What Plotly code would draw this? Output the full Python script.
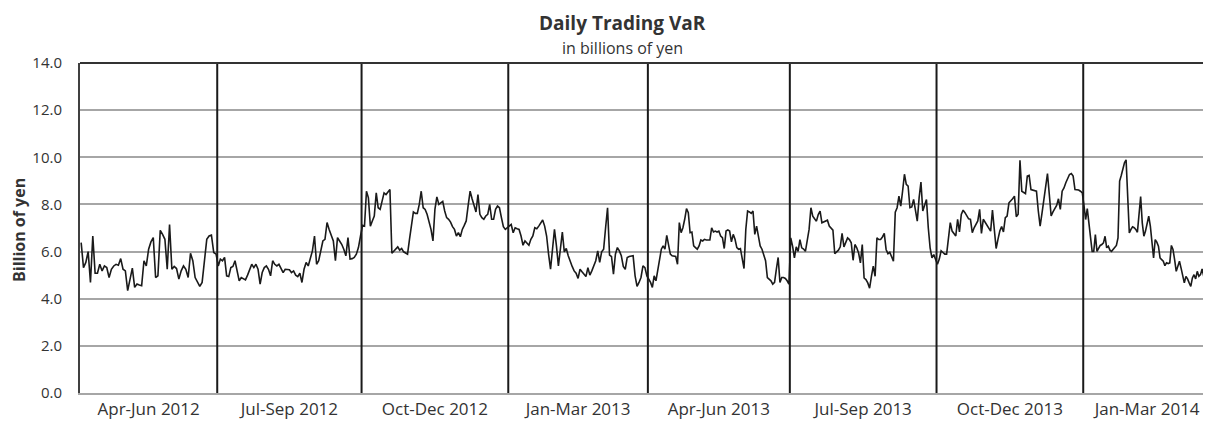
import plotly.graph_objects as go

# ---- data ----
QUARTERS = ["Apr-Jun 2012", "Jul-Sep 2012", "Oct-Dec 2012", "Jan-Mar 2013",
            "Apr-Jun 2013", "Jul-Sep 2013", "Oct-Dec 2013", "Jan-Mar 2014"]
QUARTER_DAYS = [58, 61, 62, 59, 60, 62, 62, 54]

q1 = [6.38, 5.32, 5.54, 6.00, 4.69, 6.66, 5.08, 5.08, 5.46, 5.18, 5.39, 5.32, 4.90, 5.25,
      5.39, 5.46, 5.42, 5.70, 5.25, 5.18, 4.34, 4.83, 5.30, 4.48, 4.62, 4.58, 4.55, 5.61,
      5.39, 6.10, 6.41, 6.59, 4.90, 4.97, 6.90, 6.73, 6.52, 5.25, 7.15, 5.25, 5.37, 5.28,
      4.83, 5.18, 5.39, 5.25, 4.90, 5.93, 5.61, 4.90, 4.69, 4.52, 4.69, 5.54, 6.52, 6.66,
      6.70, 5.96, 5.89]
q2 = [5.39, 5.68, 5.61, 5.75, 4.97, 4.94, 5.32, 5.37, 5.61, 5.25, 4.76, 4.90, 4.83, 4.80,
      5.00, 5.25, 5.46, 5.32, 5.46, 5.25, 4.62, 5.11, 5.32, 5.39, 5.25, 4.97, 5.61, 5.46,
      5.39, 5.46, 5.28, 5.11, 5.25, 5.23, 5.23, 5.11, 5.18, 5.00, 4.94, 5.08, 4.69, 5.25,
      5.54, 5.39, 5.68, 6.03, 6.66, 5.46, 5.61, 6.10, 6.45, 6.52, 7.23, 6.94, 6.73, 6.45,
      5.61, 6.59, 6.45, 6.31, 6.10, 5.82, 6.59, 5.68, 5.70, 5.75, 5.89, 6.17, 6.66]
q3 = [7.11, 7.08, 8.56, 8.28, 7.08, 7.30, 7.51, 8.49, 7.86, 7.79, 8.21, 8.49, 8.42, 8.52,
      8.63, 5.93, 6.03, 6.10, 6.20, 6.06, 6.13, 5.99, 5.93, 5.89, 6.52, 7.08, 7.68, 7.62,
      7.62, 8.00, 8.56, 7.86, 7.79, 7.58, 7.30, 6.94, 6.45, 7.79, 8.32, 8.00, 8.07, 8.13,
      7.72, 7.44, 7.37, 7.25, 7.06, 6.94, 6.66, 6.80, 6.63, 6.94, 7.11, 7.30, 7.96, 8.56,
      8.24, 8.00, 7.68, 8.42, 7.58, 7.44, 7.37, 7.51, 7.58, 8.00, 7.37, 7.37, 7.79, 7.93,
      7.86, 7.44, 7.06, 6.94, 7.01]
q4 = [7.08, 7.15, 6.80, 7.01, 6.97, 6.94, 6.66, 6.27, 6.45, 6.35, 6.27, 6.52, 6.66, 7.01,
      6.97, 7.08, 7.20, 7.34, 7.08, 6.66, 5.89, 5.25, 6.10, 6.94, 6.24, 5.39, 6.10, 6.83,
      5.99, 6.13, 5.82, 5.54, 5.37, 5.18, 5.08, 4.86, 5.25, 5.14, 5.04, 4.94, 5.32, 5.00,
      5.18, 5.39, 5.61, 6.03, 5.54, 5.99, 6.10, 7.01, 7.86, 5.85, 5.79, 5.04, 5.89, 6.17,
      6.03, 5.82, 5.37, 5.25, 5.75, 5.79, 5.79, 5.82, 4.97, 4.52, 4.69, 4.90, 5.39, 5.32,
      4.97]
q5 = [4.83, 4.69, 4.48, 4.97, 4.76, 5.18, 5.54, 6.10, 6.24, 6.10, 6.69, 6.31, 5.89, 5.82,
      5.82, 5.79, 5.46, 7.23, 6.80, 7.01, 7.37, 7.82, 7.65, 6.80, 6.83, 6.24, 6.17, 6.10,
      6.24, 6.49, 6.45, 6.52, 6.49, 6.49, 6.49, 7.01, 6.83, 6.87, 6.83, 6.87, 6.66, 6.59,
      6.13, 6.87, 6.92, 6.87, 6.41, 6.73, 6.52, 6.17, 6.10, 6.13, 5.70, 5.28, 6.94, 7.72,
      7.68, 7.62, 7.72, 6.73, 7.08, 6.66, 6.24, 6.10, 5.89, 5.61, 4.90, 4.83, 4.76, 4.62,
      4.69, 5.25, 5.75, 4.69, 4.90, 4.90, 4.86, 4.76, 4.62]
q6 = [6.58, 6.23, 5.73, 6.20, 6.01, 6.51, 6.16, 6.11, 6.01, 6.51, 6.94, 7.86, 7.50, 7.39,
      7.29, 7.57, 7.72, 7.22, 7.25, 7.29, 7.33, 7.08, 7.01, 6.91, 5.91, 5.97, 6.06, 6.20,
      6.77, 6.20, 6.37, 6.58, 6.51, 6.37, 5.63, 6.30, 6.16, 5.94, 5.52, 6.30, 4.88, 4.81,
      4.67, 4.45, 4.95, 5.38, 4.95, 6.58, 6.51, 6.51, 6.62, 6.77, 6.09, 5.91, 5.97, 5.73,
      5.59, 7.67, 7.86, 8.35, 7.93, 8.57, 9.28, 8.85, 8.78, 7.86, 7.89, 8.21, 7.79, 7.29,
      8.28, 8.95, 7.72, 7.93, 8.21, 7.01, 6.16, 5.73, 5.87, 5.66]
q7 = [5.46, 5.68, 6.03, 5.96, 5.89, 5.89, 6.52, 7.23, 6.87, 6.77, 6.66, 7.37, 6.83, 7.58,
      7.76, 7.65, 7.51, 7.39, 7.37, 6.80, 7.01, 7.15, 7.30, 7.79, 6.77, 7.37, 7.25, 7.11,
      7.01, 6.87, 7.76, 6.94, 6.13, 6.52, 6.87, 7.06, 6.83, 7.44, 7.51, 8.07, 8.14, 8.24,
      8.35, 7.48, 7.58, 9.87, 8.56, 8.52, 8.46, 9.20, 9.23, 8.63, 8.61, 8.61, 8.56, 7.72,
      7.08, 7.62, 8.14, 8.70, 9.31, 8.42, 7.51, 7.68, 7.82, 7.96, 8.24, 7.79, 8.56, 8.70,
      8.92, 9.08, 9.27, 9.31, 9.20, 8.63, 8.63, 8.61, 8.56, 8.49]
q8 = [7.93, 7.36, 7.82, 7.22, 6.72, 6.01, 6.01, 6.72, 6.01, 6.16, 6.26, 6.30, 6.37, 6.65,
      6.16, 6.23, 6.06, 6.01, 6.09, 6.16, 6.26, 6.58, 8.99, 9.23, 9.49, 9.77, 9.89, 8.35,
      6.79, 6.94, 7.05, 7.01, 6.94, 6.82, 7.50, 8.33, 7.22, 6.65, 6.87, 7.15, 7.50, 7.08,
      6.37, 5.73, 6.51, 6.40, 6.23, 5.73, 5.66, 5.59, 5.40, 5.52, 5.49, 5.52, 6.26, 6.09,
      5.66, 5.16, 5.38, 5.59, 5.30, 4.95, 4.67, 4.95, 4.84, 4.67, 4.52, 4.88, 5.02, 4.84,
      5.16, 4.95, 5.02, 5.26, 4.95, 4.81, 5.16, 5.23, 4.95]
SERIES = [q1, q2, q3, q4, q5, q6, q7, q8]

Y_TICKS = [0, 2, 4, 6, 8, 10, 12, 14]

# ---- build x positions: readings spread evenly over each quarter's trading days ----
xs, ys = [], []
bounds = [0]
for days, vals in zip(QUARTER_DAYS, SERIES):
    start = bounds[-1]
    n = len(vals)
    for i, v in enumerate(vals):
        xs.append(start + (i + 0.5) * days / n)
        ys.append(v)
    bounds.append(start + days)
total = bounds[-1]
centers = [(bounds[i] + bounds[i + 1]) / 2 for i in range(len(QUARTERS))]

FONT = "Open Sans, Noto Sans, sans-serif"
TXT = "#333333"

fig = go.Figure()
fig.add_trace(go.Scatter(x=xs, y=ys, mode="lines",
                         line=dict(color="#1a1a1a", width=1.6),
                         hoverinfo="x+y", showlegend=False))

shapes = []
for b in bounds[1:-1]:
    shapes.append(dict(type="line", xref="x", yref="paper", x0=b, x1=b, y0=0, y1=1,
                       line=dict(color="#1a1a1a", width=2), layer="above"))
# top border
shapes.append(dict(type="line", xref="paper", yref="paper", x0=0, x1=1, y0=1, y1=1,
                   line=dict(color="#333333", width=2), layer="above"))

# the page body adds an 8px margin, so the figure is 8px smaller than the window
fig.update_layout(
    width=1203, height=418, autosize=False,
    margin=dict(l=72, r=0, t=55, b=33),
    paper_bgcolor="white", plot_bgcolor="white",
    font=dict(family=FONT, size=15, color=TXT),
    shapes=shapes,
    xaxis=dict(range=[0, total], tickmode="array", tickvals=centers, ticktext=QUARTERS,
               showgrid=False, zeroline=False, showline=True, linecolor="#a6a6a6",
               linewidth=2, ticks="", ticklabelstandoff=0,
               tickfont=dict(family=FONT, size=17, color=TXT), fixedrange=True),
    yaxis=dict(range=[0, 14], tickmode="array", tickvals=Y_TICKS,
               ticktext=[f"{v:.1f}" for v in Y_TICKS],
               showgrid=True, gridcolor="#a6a6a6", gridwidth=1.5,
               zeroline=True, zerolinecolor="#a6a6a6", zerolinewidth=2,
               showline=True, linecolor="#404040", linewidth=2, ticks="",
               ticklabelstandoff=13,
               tickfont=dict(family=FONT, size=15, color=TXT), fixedrange=True),
    annotations=[
        dict(text="<b>Daily Trading VaR</b>", xref="paper", yref="paper",
             x=(622 - 80) / 1131, y=1, yshift=40, xanchor="center", yanchor="middle",
             showarrow=False, font=dict(family=FONT, size=19, color=TXT)),
        dict(text="in billions of yen", xref="paper", yref="paper",
             x=(622 - 80) / 1131, y=1, yshift=15, xanchor="center", yanchor="middle",
             showarrow=False, font=dict(family=FONT, size=16, color=TXT)),
        dict(text="<b>Billion of yen</b>", xref="paper", yref="paper",
             x=0, xshift=-61, y=0.5, yshift=-2, textangle=-90, xanchor="center",
             yanchor="middle",
             showarrow=False, font=dict(family=FONT, size=16, color=TXT)),
    ],
)

fig.write_html("out.html")
